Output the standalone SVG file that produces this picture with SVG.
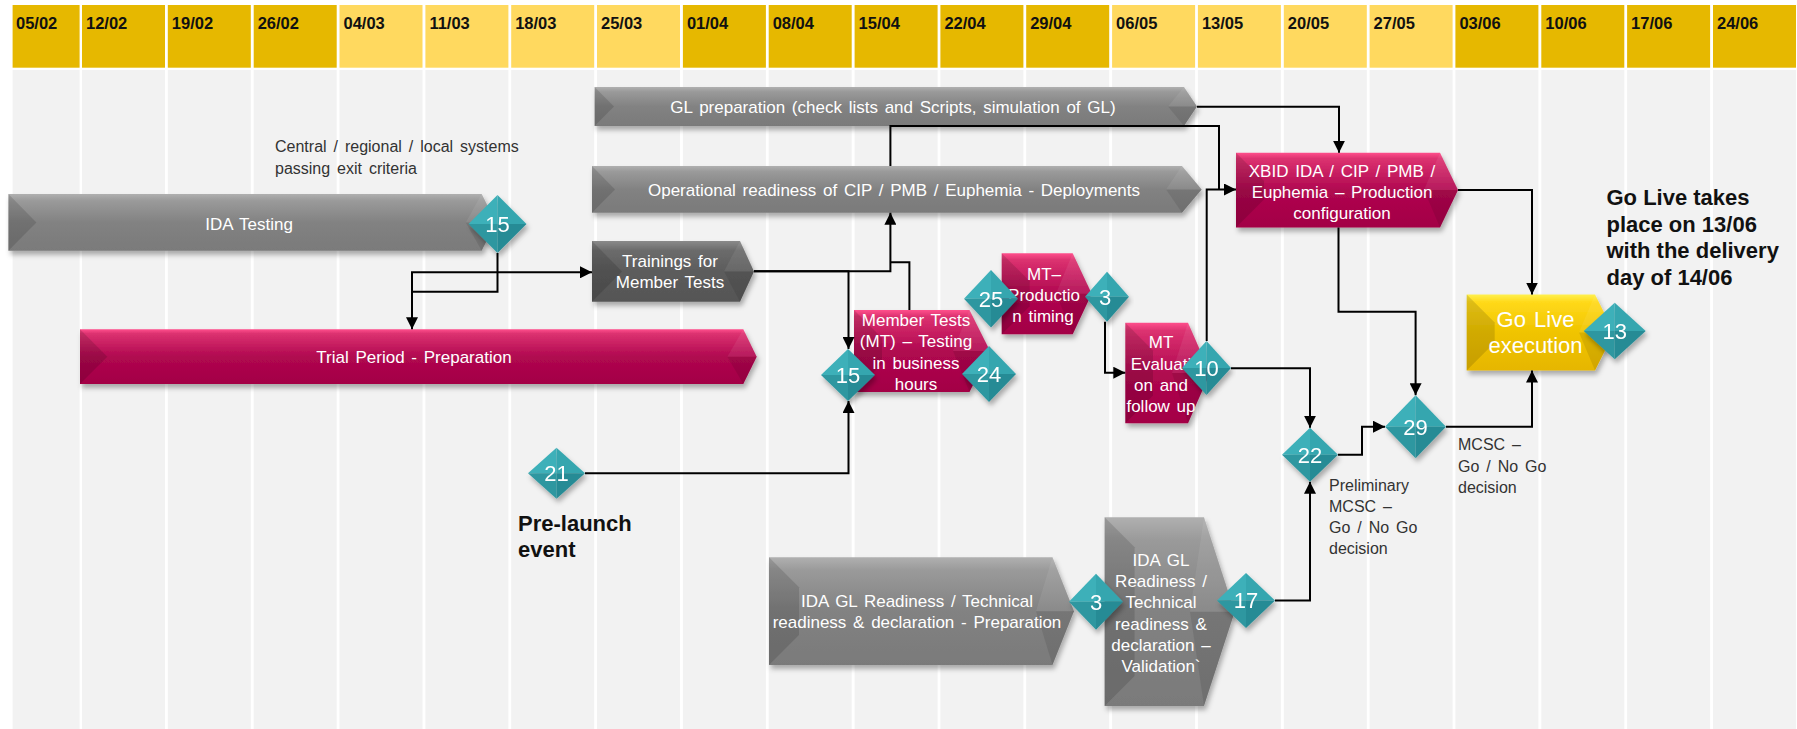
<svg xmlns="http://www.w3.org/2000/svg" width="1797" height="729" viewBox="0 0 1797 729">
<defs>
<style>
.hd{fill:#E6B800}
.hl{fill:#FFD95F}
.bd{fill:#F2F2F2}
.hlab{font-family:"Liberation Sans",Arial,sans-serif;font-weight:bold;font-size:16.5px;fill:#111}
.bt{font-family:"Liberation Sans",Arial,sans-serif;font-size:17px;fill:#fff;text-anchor:middle;word-spacing:2px}
.note{font-family:"Liberation Sans",Arial,sans-serif;font-size:16px;fill:#333;word-spacing:2.5px}
.big{font-family:"Liberation Sans",Arial,sans-serif;font-size:22px;font-weight:bold;fill:#111}
.num{font-family:"Liberation Sans",Arial,sans-serif;font-size:22px;fill:#fff;text-anchor:middle}
.fl{fill:#000;fill-opacity:0.13}
.fu{fill:#fff;fill-opacity:0.07}
.fd{fill:#000;fill-opacity:0.09}
.con{fill:none;stroke:#000;stroke-width:2}
.d1{fill:#3CB0B9}.d2{fill:#36A6AF}.d3{fill:#278B95}.d4{fill:#2D97A0}
</style>
<linearGradient id="gGray" x1="0" y1="0" x2="0" y2="1">
<stop offset="0" stop-color="#B0B0B0"/><stop offset="0.12" stop-color="#9A9A9A"/><stop offset="0.5" stop-color="#828282"/><stop offset="1" stop-color="#7A7A7A"/>
</linearGradient>
<linearGradient id="gDark" x1="0" y1="0" x2="0" y2="1">
<stop offset="0" stop-color="#8A8A8A"/><stop offset="0.15" stop-color="#6C6C6C"/><stop offset="0.5" stop-color="#5C5C5C"/><stop offset="1" stop-color="#555555"/>
</linearGradient>
<linearGradient id="gMag" x1="0" y1="0" x2="0" y2="1">
<stop offset="0" stop-color="#FF4F8C"/><stop offset="0.08" stop-color="#DC3270"/><stop offset="0.5" stop-color="#B00850"/><stop offset="1" stop-color="#A30045"/>
</linearGradient>
<linearGradient id="gYel" x1="0" y1="0" x2="0" y2="1">
<stop offset="0" stop-color="#FFF04D"/><stop offset="0.1" stop-color="#FFD91A"/><stop offset="0.5" stop-color="#F0C400"/><stop offset="1" stop-color="#E6B600"/>
</linearGradient>
<filter id="sh" x="-10%" y="-20%" width="120%" height="150%">
<feDropShadow dx="2" dy="4" stdDeviation="2.5" flood-color="#000" flood-opacity="0.3"/>
</filter>
<marker id="ar" markerUnits="userSpaceOnUse" markerWidth="12" markerHeight="12" viewBox="0 0 12 12" refX="12" refY="6" orient="auto">
<path d="M0,0 L12,6 L0,12 z" fill="#000"/>
</marker>
</defs>

<rect x="0" y="0" width="1797" height="729" fill="#fff"/>

<g id="timeline">
<rect class="hd" x="12.6" y="5" width="67" height="62.7"/>
<rect class="hd" x="82" y="5" width="83" height="62.7"/>
<rect class="hd" x="167.8" y="5" width="83" height="62.7"/>
<rect class="hd" x="253.7" y="5" width="83" height="62.7"/>
<rect class="hl" x="339.5" y="5" width="83" height="62.7"/>
<rect class="hl" x="425.4" y="5" width="83" height="62.7"/>
<rect class="hl" x="511.2" y="5" width="83" height="62.7"/>
<rect class="hl" x="597" y="5" width="83" height="62.7"/>
<rect class="hd" x="682.9" y="5" width="83" height="62.7"/>
<rect class="hd" x="768.7" y="5" width="83" height="62.7"/>
<rect class="hd" x="854.6" y="5" width="83" height="62.7"/>
<rect class="hd" x="940.4" y="5" width="83" height="62.7"/>
<rect class="hd" x="1026.2" y="5" width="83" height="62.7"/>
<rect class="hl" x="1112.1" y="5" width="83" height="62.7"/>
<rect class="hl" x="1197.9" y="5" width="83" height="62.7"/>
<rect class="hl" x="1283.8" y="5" width="83" height="62.7"/>
<rect class="hl" x="1369.6" y="5" width="83" height="62.7"/>
<rect class="hd" x="1455.4" y="5" width="83" height="62.7"/>
<rect class="hd" x="1541.3" y="5" width="83" height="62.7"/>
<rect class="hd" x="1627.1" y="5" width="83" height="62.7"/>
<rect class="hd" x="1713" y="5" width="83" height="62.7"/>

<rect class="bd" x="12.6" y="70" width="67" height="659"/>
<rect class="bd" x="82" y="70" width="83" height="659"/>
<rect class="bd" x="167.8" y="70" width="83" height="659"/>
<rect class="bd" x="253.7" y="70" width="83" height="659"/>
<rect class="bd" x="339.5" y="70" width="83" height="659"/>
<rect class="bd" x="425.4" y="70" width="83" height="659"/>
<rect class="bd" x="511.2" y="70" width="83" height="659"/>
<rect class="bd" x="597" y="70" width="83" height="659"/>
<rect class="bd" x="682.9" y="70" width="83" height="659"/>
<rect class="bd" x="768.7" y="70" width="83" height="659"/>
<rect class="bd" x="854.6" y="70" width="83" height="659"/>
<rect class="bd" x="940.4" y="70" width="83" height="659"/>
<rect class="bd" x="1026.2" y="70" width="83" height="659"/>
<rect class="bd" x="1112.1" y="70" width="83" height="659"/>
<rect class="bd" x="1197.9" y="70" width="83" height="659"/>
<rect class="bd" x="1283.8" y="70" width="83" height="659"/>
<rect class="bd" x="1369.6" y="70" width="83" height="659"/>
<rect class="bd" x="1455.4" y="70" width="83" height="659"/>
<rect class="bd" x="1541.3" y="70" width="83" height="659"/>
<rect class="bd" x="1627.1" y="70" width="83" height="659"/>
<rect class="bd" x="1713" y="70" width="83" height="659"/>

<text class="hlab" x="16" y="29">05/02</text>
<text class="hlab" x="86" y="29">12/02</text>
<text class="hlab" x="171.8" y="29">19/02</text>
<text class="hlab" x="257.7" y="29">26/02</text>
<text class="hlab" x="343.5" y="29">04/03</text>
<text class="hlab" x="429.4" y="29">11/03</text>
<text class="hlab" x="515.2" y="29">18/03</text>
<text class="hlab" x="601" y="29">25/03</text>
<text class="hlab" x="686.9" y="29">01/04</text>
<text class="hlab" x="772.7" y="29">08/04</text>
<text class="hlab" x="858.6" y="29">15/04</text>
<text class="hlab" x="944.4" y="29">22/04</text>
<text class="hlab" x="1030.2" y="29">29/04</text>
<text class="hlab" x="1116.1" y="29">06/05</text>
<text class="hlab" x="1201.9" y="29">13/05</text>
<text class="hlab" x="1287.8" y="29">20/05</text>
<text class="hlab" x="1373.6" y="29">27/05</text>
<text class="hlab" x="1459.4" y="29">03/06</text>
<text class="hlab" x="1545.3" y="29">10/06</text>
<text class="hlab" x="1631.1" y="29">17/06</text>
<text class="hlab" x="1717" y="29">24/06</text>
</g>

<g id="notes">
<text class="note" x="275" y="152">Central / regional / local systems</text>
<text class="note" x="275" y="173.5">passing exit criteria</text>
<text class="big" x="518" y="530.7">Pre-launch</text>
<text class="big" x="518" y="556.7">event</text>
<text class="big" x="1606.5" y="205">Go Live takes</text>
<text class="big" x="1606.5" y="231.7">place on 13/06</text>
<text class="big" x="1606.5" y="258.3">with the delivery</text>
<text class="big" x="1606.5" y="285">day of 14/06</text>
<text class="note" x="1329" y="490.5">Preliminary</text>
<text class="note" x="1329" y="511.7">MCSC –</text>
<text class="note" x="1329" y="533">Go / No Go</text>
<text class="note" x="1329" y="554.2">decision</text>
<text class="note" x="1458" y="450">MCSC –</text>
<text class="note" x="1458" y="471.5">Go / No Go</text>
<text class="note" x="1458" y="492.7">decision</text>
</g>

<g id="ida-testing">
<polygon filter="url(#sh)" fill="url(#gGray)" points="8.4,194 481.7,194 496,222.4 481.7,250.7 8.4,250.7"/>
<polygon class="fl" points="8.4,194 36.4,222.4 8.4,250.7"/>
<polygon class="fu" points="481.7,194 496,222.4 465.7,222.4"/>
<polygon class="fd" points="465.7,222.4 496,222.4 481.7,250.7"/>
<text class="bt" x="249" y="230">IDA Testing</text>
</g>

<g id="trial-period">
<polygon filter="url(#sh)" fill="url(#gMag)" points="80,329.3 743.3,329.3 756.7,356.7 743.3,384 80,384"/>
<polygon class="fl" points="80,329.3 107.3,356.7 80,384"/>
<polygon class="fu" points="743.3,329.3 756.7,356.7 727.3,356.7"/>
<polygon class="fd" points="727.3,356.7 756.7,356.7 743.3,384"/>
<text class="bt" x="414" y="363">Trial Period - Preparation</text>
</g>

<g id="gl-preparation">
<polygon filter="url(#sh)" fill="url(#gGray)" points="594.6,87 1184,87 1197,106.5 1184,126 594.6,126"/>
<polygon class="fl" points="594.6,87 614,106.5 594.6,126"/>
<polygon class="fu" points="1184,87 1197,106.5 1168,106.5"/>
<polygon class="fd" points="1168,106.5 1197,106.5 1184,126"/>
<text class="bt" x="893" y="112.5">GL preparation (check lists and Scripts, simulation of GL)</text>
</g>

<g id="operational-readiness">
<polygon filter="url(#sh)" fill="url(#gGray)" points="592,166 1182,166 1201.7,189.4 1182,212.7 592,212.7"/>
<polygon class="fl" points="592,166 615,189.4 592,212.7"/>
<polygon class="fu" points="1182,166 1201.7,189.4 1166,189.4"/>
<polygon class="fd" points="1166,189.4 1201.7,189.4 1182,212.7"/>
<text class="bt" x="894" y="195.5">Operational readiness of CIP / PMB / Euphemia - Deployments</text>
</g>

<g id="trainings">
<polygon filter="url(#sh)" fill="url(#gDark)" points="592,241 740,241 754,271.4 740,301.7 592,301.7"/>
<polygon class="fl" points="592,241 622,271.4 592,301.7"/>
<polygon class="fu" points="740,241 754,271.4 724,271.4"/>
<polygon class="fd" points="724,271.4 754,271.4 740,301.7"/>
<text class="bt" x="670" y="266.5">Trainings for</text>
<text class="bt" x="670" y="288">Member Tests</text>
</g>

<g id="member-tests">
<polygon filter="url(#sh)" fill="url(#gMag)" points="854,310 969.5,310 990,351 969.5,392 854,392"/>
<polygon class="fl" points="854,310 882,338 882,364 854,392"/>
<polygon class="fu" points="969.5,310 990,351 953,351"/>
<polygon class="fd" points="953,351 990,351 969.5,392"/>
<text class="bt" x="916" y="326">Member Tests</text>
<text class="bt" x="916" y="347.3">(MT) – Testing</text>
<text class="bt" x="916" y="368.6">in business</text>
<text class="bt" x="916" y="389.9">hours</text>
</g>

<g id="mt-production-timing">
<polygon filter="url(#sh)" fill="url(#gMag)" points="1001.7,253.3 1072.7,253.3 1091.7,293.8 1072.7,334.3 1001.7,334.3"/>
<polygon class="fl" points="1001.7,253.3 1029.7,281.3 1029.7,306.3 1001.7,334.3"/>
<polygon class="fu" points="1072.7,253.3 1091.7,293.8 1056,293.8"/>
<polygon class="fd" points="1056,293.8 1091.7,293.8 1072.7,334.3"/>
<text class="bt" x="1044" y="280">MT–</text>
<text class="bt" x="1044" y="301">Productio</text>
<text class="bt" x="1043" y="322">n timing</text>
</g>

<g id="mt-evaluation">
<polygon filter="url(#sh)" fill="url(#gMag)" points="1125.3,322.7 1188,322.7 1210,373 1188,423.3 1125.3,423.3"/>
<polygon class="fl" points="1125.3,322.7 1153,350.5 1153,395.5 1125.3,423.3"/>
<polygon class="fu" points="1188,322.7 1210,373 1172,373"/>
<polygon class="fd" points="1172,373 1210,373 1188,423.3"/>
<text class="bt" x="1161" y="348.3">MT</text>
<text class="bt" x="1161" y="369.5">Evaluati</text>
<text class="bt" x="1161" y="390.7">on and</text>
<text class="bt" x="1161" y="411.9">follow up</text>
</g>

<g id="xbid-production">
<polygon filter="url(#sh)" fill="url(#gMag)" points="1236,152.7 1440,152.7 1458,190.1 1440,227.5 1236,227.5"/>
<polygon class="fl" points="1236,152.7 1264,180.7 1264,199.5 1236,227.5"/>
<polygon class="fu" points="1440,152.7 1458,190.1 1424,190.1"/>
<polygon class="fd" points="1424,190.1 1458,190.1 1440,227.5"/>
<text class="bt" x="1342" y="176.5">XBID IDA / CIP / PMB /</text>
<text class="bt" x="1342" y="197.8">Euphemia – Production</text>
<text class="bt" x="1342" y="219.1">configuration</text>
</g>

<g id="go-live">
<polygon filter="url(#sh)" fill="url(#gYel)" points="1466.7,294.5 1595,294.5 1614,332.5 1595,370.5 1466.7,370.5"/>
<polygon class="fl" points="1466.7,294.5 1494.7,322.5 1494.7,342.5 1466.7,370.5"/>
<polygon class="fu" points="1595,294.5 1614,332.5 1579,332.5"/>
<polygon class="fd" points="1579,332.5 1614,332.5 1595,370.5"/>
<text class="bt" x="1535.5" y="326.5" style="font-size:22px">Go Live</text>
<text class="bt" x="1535.5" y="353.3" style="font-size:22px">execution</text>
</g>

<g id="ida-gl-preparation">
<polygon filter="url(#sh)" fill="url(#gGray)" points="769,557.3 1052.5,557.3 1074,611.2 1052.5,665 769,665"/>
<polygon class="fl" points="769,557.3 799,587.3 799,635 769,665"/>
<polygon class="fu" points="1052.5,557.3 1074,611.2 1036,611.2"/>
<polygon class="fd" points="1036,611.2 1074,611.2 1052.5,665"/>
<text class="bt" x="917" y="606.5">IDA GL Readiness / Technical</text>
<text class="bt" x="917" y="627.8">readiness &amp; declaration - Preparation</text>
</g>

<g id="ida-gl-validation">
<polygon filter="url(#sh)" fill="url(#gGray)" points="1104.6,517.3 1204,517.3 1234.7,611.7 1204,706 1104.6,706"/>
<polygon class="fl" points="1104.6,517.3 1134.6,547.3 1134.6,676 1104.6,706"/>
<polygon class="fu" points="1204,517.3 1234.7,611.7 1190,611.7"/>
<polygon class="fd" points="1190,611.7 1234.7,611.7 1204,706"/>
<text class="bt" x="1161" y="565.5">IDA GL</text>
<text class="bt" x="1161" y="587">Readiness /</text>
<text class="bt" x="1161" y="608.3">Technical</text>
<text class="bt" x="1161" y="629.5">readiness &amp;</text>
<text class="bt" x="1161" y="650.7">declaration –</text>
<text class="bt" x="1161" y="671.9">Validation`</text>
</g>

<g id="connectors">
<path class="con" d="M497.5,253 V291.7 H412 V329.3" marker-end="url(#ar)"/>
<path class="con" d="M412,291.7 V272.3 H592" marker-end="url(#ar)"/>
<path class="con" d="M1197,106.7 H1339 V152.7" marker-end="url(#ar)"/>
<path class="con" d="M890.4,166 V126 H1219 V189.5"/>
<path class="con" d="M1206.7,341 V189.5 H1236" marker-end="url(#ar)"/>
<path class="con" d="M754,271.3 H890.4 V212.7" marker-end="url(#ar)"/>
<path class="con" d="M754,271.3 H848.5 V349" marker-end="url(#ar)"/>
<path class="con" d="M909.4,310 V262.3 H890.4"/>
<path class="con" d="M585,473.3 H848.5 V401" marker-end="url(#ar)"/>
<path class="con" d="M1105,321.7 V372.7 H1125.3" marker-end="url(#ar)"/>
<path class="con" d="M1458,190.1 H1532 V294.5" marker-end="url(#ar)"/>
<path class="con" d="M1338.5,227.5 V311.7 H1415.6 V395.2" marker-end="url(#ar)"/>
<path class="con" d="M1231,368.3 H1310 V427.7" marker-end="url(#ar)"/>
<path class="con" d="M1338,454.7 H1362 V426.7 H1385" marker-end="url(#ar)"/>
<path class="con" d="M1446,426.7 H1532 V370.5" marker-end="url(#ar)"/>
<path class="con" d="M1275,600.5 H1310 V481.7" marker-end="url(#ar)"/>
</g>

<g id="m-15a" filter="url(#sh)">
<polygon class="d1" points="497.5,195 468.5,224 497.5,224"/><polygon class="d2" points="497.5,195 526.5,224 497.5,224"/>
<polygon class="d3" points="526.5,224 497.5,253 497.5,224"/><polygon class="d4" points="468.5,224 497.5,253 497.5,224"/>
<text class="num" x="497.5" y="231.8">15</text>
</g>
<g id="m-15b" filter="url(#sh)">
<polygon class="d1" points="848,349 821,375 848,375"/><polygon class="d2" points="848,349 875,375 848,375"/>
<polygon class="d3" points="875,375 848,401 848,375"/><polygon class="d4" points="821,375 848,401 848,375"/>
<text class="num" x="848" y="382.8">15</text>
</g>
<g id="m-24" filter="url(#sh)">
<polygon class="d1" points="989,346 962,374 989,374"/><polygon class="d2" points="989,346 1016,374 989,374"/>
<polygon class="d3" points="1016,374 989,402 989,374"/><polygon class="d4" points="962,374 989,402 989,374"/>
<text class="num" x="989" y="381.8">24</text>
</g>
<g id="m-25" filter="url(#sh)">
<polygon class="d1" points="991,270 964,298.7 991,298.7"/><polygon class="d2" points="991,270 1018,298.7 991,298.7"/>
<polygon class="d3" points="1018,298.7 991,327.4 991,298.7"/><polygon class="d4" points="964,298.7 991,327.4 991,298.7"/>
<text class="num" x="991" y="306.5">25</text>
</g>
<g id="m-3a" filter="url(#sh)">
<polygon class="d1" points="1107,271.7 1085,296.7 1107,296.7"/><polygon class="d2" points="1107,271.7 1129,296.7 1107,296.7"/>
<polygon class="d3" points="1129,296.7 1107,321.7 1107,296.7"/><polygon class="d4" points="1085,296.7 1107,321.7 1107,296.7"/>
<text class="num" x="1105" y="304.5">3</text>
</g>
<g id="m-10" filter="url(#sh)">
<polygon class="d1" points="1206.5,341 1182,368 1206.5,368"/><polygon class="d2" points="1206.5,341 1231,368 1206.5,368"/>
<polygon class="d3" points="1231,368 1206.5,395 1206.5,368"/><polygon class="d4" points="1182,368 1206.5,395 1206.5,368"/>
<text class="num" x="1206.5" y="375.8">10</text>
</g>
<g id="m-22" filter="url(#sh)">
<polygon class="d1" points="1310,427.7 1282,454.7 1310,454.7"/><polygon class="d2" points="1310,427.7 1338,454.7 1310,454.7"/>
<polygon class="d3" points="1338,454.7 1310,481.7 1310,454.7"/><polygon class="d4" points="1282,454.7 1310,481.7 1310,454.7"/>
<text class="num" x="1310" y="462.5">22</text>
</g>
<g id="m-29" filter="url(#sh)">
<polygon class="d1" points="1415.6,395.2 1385,426.7 1415.6,426.7"/><polygon class="d2" points="1415.6,395.2 1446,426.7 1415.6,426.7"/>
<polygon class="d3" points="1446,426.7 1415.6,458.2 1415.6,426.7"/><polygon class="d4" points="1385,426.7 1415.6,458.2 1415.6,426.7"/>
<text class="num" x="1415.6" y="434.5">29</text>
</g>
<g id="m-13" filter="url(#sh)">
<polygon class="d1" points="1614.7,302.7 1583.7,331 1614.7,331"/><polygon class="d2" points="1614.7,302.7 1645.7,331 1614.7,331"/>
<polygon class="d3" points="1645.7,331 1614.7,359.3 1614.7,331"/><polygon class="d4" points="1583.7,331 1614.7,359.3 1614.7,331"/>
<text class="num" x="1614.7" y="338.8">13</text>
</g>
<g id="m-21" filter="url(#sh)">
<polygon class="d1" points="556.5,447.8 528,473.3 556.5,473.3"/><polygon class="d2" points="556.5,447.8 585,473.3 556.5,473.3"/>
<polygon class="d3" points="585,473.3 556.5,498.8 556.5,473.3"/><polygon class="d4" points="528,473.3 556.5,498.8 556.5,473.3"/>
<text class="num" x="556.5" y="481">21</text>
</g>
<g id="m-3b" filter="url(#sh)">
<polygon class="d1" points="1096,573.7 1069,601.7 1096,601.7"/><polygon class="d2" points="1096,573.7 1123,601.7 1096,601.7"/>
<polygon class="d3" points="1123,601.7 1096,629.7 1096,601.7"/><polygon class="d4" points="1069,601.7 1096,629.7 1096,601.7"/>
<text class="num" x="1096" y="609.5">3</text>
</g>
<g id="m-17" filter="url(#sh)">
<polygon class="d1" points="1246,573 1217,600.5 1246,600.5"/><polygon class="d2" points="1246,573 1275,600.5 1246,600.5"/>
<polygon class="d3" points="1275,600.5 1246,628 1246,600.5"/><polygon class="d4" points="1217,600.5 1246,628 1246,600.5"/>
<text class="num" x="1246" y="608.3">17</text>
</g>
</svg>
